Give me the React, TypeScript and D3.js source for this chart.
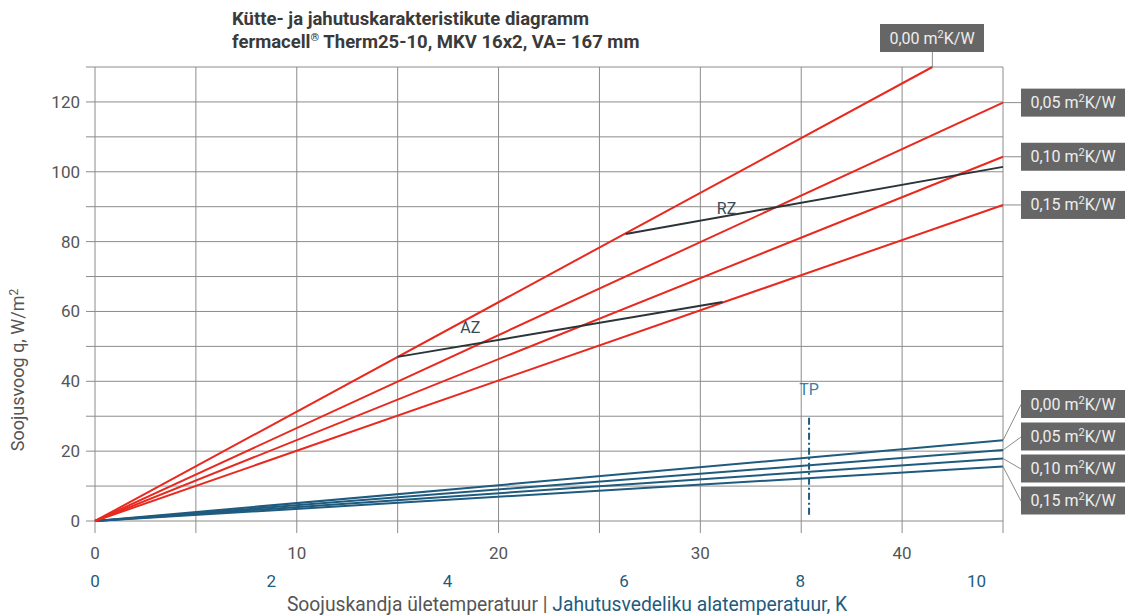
import React from "react";
import * as d3 from "d3";

const W = 1125;
const H = 615;

// Heating (red) lines: end points [x (K over-temp), q (W/m²)]
const heatingLabels = ["0,00", "0,05", "0,10", "0,15"];
const heatingEnds: [number, number][] = [
  [41.5, 130],
  [45, 119.8],
  [45, 104.3],
  [45, 90.5],
];
// Cooling (blue) lines: end points [x (K under-temp), q]
const coolingLabels = ["0,00", "0,05", "0,10", "0,15"];
const coolingEnds: [number, number][] = [
  [10.3, 23.1],
  [10.3, 20.3],
  [10.3, 17.9],
  [10.3, 15.6],
];
const azLine: [number, number][] = [
  [15, 47],
  [31.1, 62.7],
];
const rzLine: [number, number][] = [
  [26.3, 82.2],
  [45, 101.4],
];
const tpX = 8.1;
const tpRange = [1.8, 30.4];

const xTicks = [0, 10, 20, 30, 40];
const xGrid = [0, 5, 10, 15, 20, 25, 30, 35, 40, 45];
const cTicks = [0, 2, 4, 6, 8, 10];
const yTicks = [0, 20, 40, 60, 80, 100, 120];
const yGrid = [0, 10, 20, 30, 40, 50, 60, 70, 80, 90, 100, 110, 120, 130];

const RED = "#e8291f";
const BLUE = "#1f5b7e";
const DARK = "#2c3438";
const GRID = "#8c8c8c";
const BOX = "#666666";
const TEXT = "#555555";
const FONT = "Roboto, 'Noto Sans', sans-serif";

export default function App() {
  const x = d3.scaleLinear().domain([0, 45]).range([95, 1003]);
  const xc = d3.scaleLinear().domain([0, 10.3]).range([95, 1003]);
  const y = d3.scaleLinear().domain([0, 130]).range([521, 67]);
  const line = d3.line<[number, number]>().x((d) => x(d[0])).y((d) => y(d[1]));
  const lineC = d3.line<[number, number]>().x((d) => xc(d[0])).y((d) => y(d[1]));

  const y0 = y(0);
  const yTop = y(130);
  const xL = x(0);
  const xR = x(45);

  // label boxes (layout)
  const boxW = 104;
  const boxH = 28;
  const topBox = { x: 880, y: 24 };
  const rightBoxX = 1021;
  const redBoxYs = heatingEnds.slice(1).map((e) => y(e[1]));
  const blueBoxYs = [404.5, 437, 469, 501];

  const renderBox = (bx: number, by: number, label: string, key: string) => (
    <g key={key}>
      <rect x={bx} y={by} width={boxW} height={boxH} fill={BOX} />
      <text
        x={bx + boxW / 2}
        y={by + boxH / 2 + 5.5}
        textAnchor="middle"
        fill="#eeeeee"
        fontSize={16}
        fontFamily={FONT}
      >
        {label} m<tspan fontSize={11} dy={-6}>2</tspan>
        <tspan dy={6}>K/W</tspan>
      </text>
    </g>
  );

  return (
    <svg
      width={W}
      height={H}
      style={{ position: "absolute", left: 0, top: 0, background: "#fff" }}
    >
      {/* Title */}
      <text x={232} y={25} fontSize={18.5} fontWeight="bold" fill="#3a3a3a" fontFamily={FONT}>
        Kütte- ja jahutuskarakteristikute diagramm
      </text>
      <text x={232} y={48} fontSize={18.5} fontWeight="bold" fill="#3a3a3a" fontFamily={FONT}>
        fermacell
        <tspan fontSize={11} dy={-7}>®</tspan>
        <tspan dy={7}> Therm25-10, MKV 16x2, VA= 167 mm</tspan>
      </text>

      {/* Grid */}
      {yGrid.map((v) => (
        <line key={"gy" + v} x1={xL - 9} x2={xR} y1={y(v)} y2={y(v)} stroke={GRID} strokeWidth={1} />
      ))}
      {xGrid.map((v) => (
        <line key={"gx" + v} x1={x(v)} x2={x(v)} y1={yTop} y2={y0 + 12} stroke={GRID} strokeWidth={1} />
      ))}

      {/* Y tick labels */}
      {yTicks.map((v) => (
        <text key={"yt" + v} x={80} y={y(v) + 6} textAnchor="end" fontSize={17} fill={TEXT} fontFamily={FONT}>
          {v}
        </text>
      ))}
      {/* X tick labels */}
      {xTicks.map((v) => (
        <text key={"xt" + v} x={x(v)} y={559} textAnchor="middle" fontSize={17} fill={TEXT} fontFamily={FONT}>
          {v}
        </text>
      ))}
      {cTicks.map((v) => (
        <text key={"ct" + v} x={xc(v)} y={587} textAnchor="middle" fontSize={17} fill={BLUE} fontFamily={FONT}>
          {v}
        </text>
      ))}

      {/* Axis titles */}
      <text x={567} y={611} textAnchor="middle" fontSize={19.3} fontFamily={FONT}>
        <tspan fill={TEXT}>Soojuskandja ületemperatuur | </tspan>
        <tspan fill={BLUE}>Jahutusvedeliku alatemperatuur, K</tspan>
      </text>
      <text
        transform={`translate(24, 370) rotate(-90)`}
        textAnchor="middle"
        fontSize={18}
        fill={TEXT}
        fontFamily={FONT}
      >
        Soojusvoog q, W/m
        <tspan fontSize={12} dy={-6}>2</tspan>
      </text>

      {/* Cooling lines */}
      {coolingEnds.map((e, i) => (
        <path key={"c" + i} d={lineC([[0, 0], e]) || ""} fill="none" stroke={BLUE} strokeWidth={2} />
      ))}

      {/* Heating lines */}
      {heatingEnds.map((e, i) => (
        <path key={"h" + i} d={line([[0, 0], e]) || ""} fill="none" stroke={RED} strokeWidth={2} />
      ))}

      {/* AZ / RZ */}
      <path d={line(azLine) || ""} fill="none" stroke={DARK} strokeWidth={2} />
      <path d={line(rzLine) || ""} fill="none" stroke={DARK} strokeWidth={2} />
      <text x={x(18.6)} y={y(53.8)} textAnchor="middle" fontSize={16} fill="#3a4a55" fontFamily={FONT}>
        AZ
      </text>
      <text x={x(31.3)} y={y(87.8)} textAnchor="middle" fontSize={16} fill="#3a4a55" fontFamily={FONT}>
        RZ
      </text>

      {/* TP */}
      <line
        x1={xc(tpX)}
        x2={xc(tpX)}
        y1={y(tpRange[0])}
        y2={y(tpRange[1])}
        stroke={BLUE}
        strokeWidth={2}
        strokeDasharray="7,3,2,3"
      />
      <text x={xc(tpX)} y={y(36.2)} textAnchor="middle" fontSize={16} fill="#3a7ea6" fontFamily={FONT}>
        TP
      </text>

      {/* Red labels */}
      <line x1={x(heatingEnds[0][0])} x2={x(heatingEnds[0][0])} y1={topBox.y + boxH} y2={y(heatingEnds[0][1])} stroke={GRID} />
      {renderBox(topBox.x, topBox.y, heatingLabels[0], "rb0")}
      {redBoxYs.map((cy, i) => (
        <g key={"rl" + i}>
          <line x1={xR} x2={rightBoxX} y1={cy} y2={cy} stroke={GRID} />
          {renderBox(rightBoxX, cy - boxH / 2, heatingLabels[i + 1], "rb" + (i + 1))}
        </g>
      ))}

      {/* Blue labels */}
      {coolingEnds.map((e, i) => (
        <line key={"bl" + i} x1={xR} y1={y(e[1])} x2={rightBoxX} y2={blueBoxYs[i]} stroke={GRID} />
      ))}
      {blueBoxYs.map((cy, i) => renderBox(rightBoxX, cy - 14.5, coolingLabels[i], "bb" + i))}
    </svg>
  );
}
